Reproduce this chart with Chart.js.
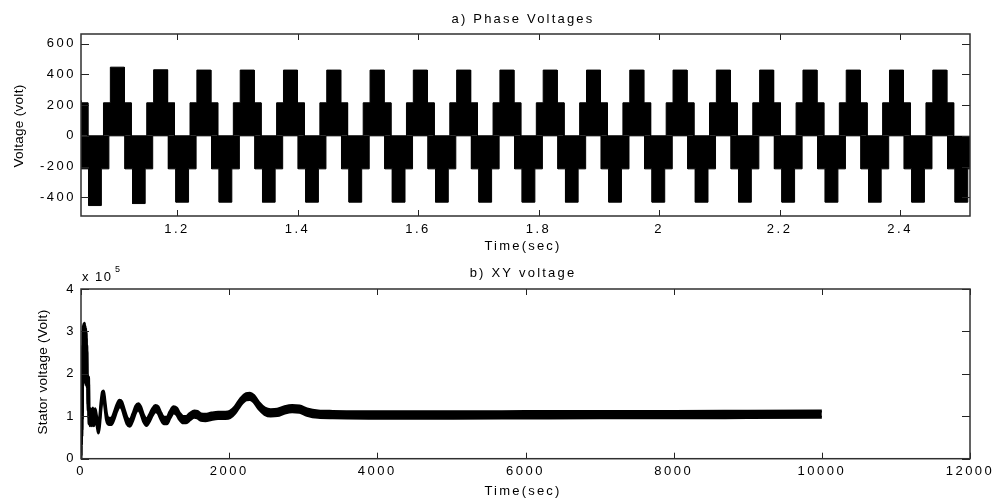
<!DOCTYPE html>
<html>
<head>
<meta charset="utf-8">
<script src="https://cdn.jsdelivr.net/npm/chart.js@4.4.1/dist/chart.umd.min.js"></script>
<style>
  body { margin: 0; background: #fff; }
  #wrap { position: relative; width: 996px; height: 498px; overflow: hidden; }
  .box { position: absolute; left: 0; width: 996px; }
  #boxA { top: 0; height: 260px; }
  #boxB { top: 250px; height: 248px; }
</style>
</head>
<body>
<div id="wrap">
  <div class="box" id="boxA"><canvas id="phaseChart"></canvas></div>
  <div class="box" id="boxB"><canvas id="xyChart"></canvas></div>
</div>
<script>
// a) phase voltages - centre of every positive and negative step (sec)
var posPeakTime = [1.0291, 1.1010, 1.1728, 1.2446, 1.3165, 1.3883, 1.4601, 1.5320, 1.6038, 1.6757, 1.7475,
                   1.8193, 1.8912, 1.9630, 2.0348, 2.1067, 2.1785, 2.2504, 2.3222, 2.3940, 2.4659];
var posPeakVolt = [230, 447, 430, 428, 428, 428, 428, 428, 428, 428, 428,
                   428, 428, 428, 428, 428, 428, 428, 428, 428, 428];
var negPeakTime = [1.0640, 1.1367, 1.2087, 1.2805, 1.3524, 1.4242, 1.4960, 1.5679, 1.6397, 1.7116, 1.7834,
                   1.8552, 1.9271, 1.9989, 2.0707, 2.1426, 2.2144, 2.2863, 2.3581, 2.4299, 2.5018];
var negPeakVolt = [-454, -441, -432, -432, -432, -432, -432, -432, -432, -432, -432,
                   -432, -432, -432, -432, -432, -432, -432, -432, -432, -432];
var stepVolt = 215;       // middle level of the six-step wave
var blockHalf = 0.023;    // half width of the 215 V block (sec)
var posPeakHalf = 0.0116; // half width of the top step
var negPeakHalf = 0.0105;
var phaseXTicks = [1.2, 1.4, 1.6, 1.8, 2, 2.2, 2.4];
var phaseYTicks = [-400, -200, 0, 200, 400, 600];

// b) XY voltage - centre of the thick trace, in 1e5 V
var xyTime = [0, 3, 6, 9, 12, 15, 18, 22, 26, 30, 34, 38, 42, 46, 50, 54, 58, 62, 66, 70, 74, 78, 84, 90, 96, 102, 108,
              115, 122, 132, 146, 160, 175, 190, 205, 222, 235, 250,
              270, 290, 305, 322, 345, 375, 410, 445, 485, 520, 550, 585, 620, 660, 700, 740, 775, 805, 845, 885, 925,
              965, 1005, 1040, 1080, 1120, 1160, 1200, 1250, 1290, 1330, 1380, 1420, 1470, 1530, 1570, 1620, 1680,
              1760, 1850, 1950, 2010, 2080, 2150, 2230, 2280, 2330, 2400, 2480, 2560, 2650, 2750, 2850, 2950, 3050,
              3200, 3400, 4000, 5000, 6000, 7000, 8000, 9000, 10000];
var xyVolt = [0, 2.4, 0.4, 2.4, 0.6, 2.3, 1.0, 2.6, 1.8, 3.05, 1.9, 3.1, 2.0, 3.12, 2.0, 3.05, 1.9, 3.0, 1.85, 2.9, 1.8, 2.6,
              1.75, 1.9, 1.2, 1.85, 0.9,
              1.05, 0.85, 1.1, 0.85, 1.12, 0.85, 1.1, 0.98, 0.8, 0.68, 0.85,
              1.25, 1.5, 1.52, 1.3, 0.98, 0.88, 0.88, 1.0, 1.2, 1.3, 1.27, 1.08, 0.9, 0.84, 0.98, 1.17, 1.22, 1.15, 0.95, 0.86, 0.96,
              1.1, 1.18, 1.15, 1.0, 0.9, 0.9, 1.03, 1.15, 1.12, 1.0, 0.92, 0.92, 0.99, 1.05, 1.04, 0.98, 0.97,
              1.0, 1.02, 1.02, 1.04, 1.15, 1.33, 1.46, 1.47, 1.42, 1.25, 1.12, 1.08, 1.09, 1.15, 1.18, 1.17, 1.1,
              1.05, 1.04, 1.03, 1.03, 1.035, 1.04, 1.04, 1.045, 1.05];
var xyRipple = 0.075; // half thickness of the black band (without the stroke)
var xyXTicks = [0, 2000, 4000, 6000, 8000, 10000, 12000];
var xyYTicks = [0, 1, 2, 3, 4];

var FONT = '"Liberation Sans", Arial, sans-serif';
var INK = '#000';

// six-step envelope: 0 -> level -> peak -> level -> 0 around every centre
function stepEnvelope(times, peaks, peakHalf) {
  var pts = [];
  for (var i = 0; i < times.length; i++) {
    var c = times[i], lv = peaks[i] > 0 ? stepVolt : -stepVolt;
    pts.push({x: c - blockHalf, y: 0});
    pts.push({x: c - blockHalf, y: lv});
    pts.push({x: c - peakHalf, y: lv});
    pts.push({x: c - peakHalf, y: peaks[i]});
    pts.push({x: c + peakHalf, y: peaks[i]});
    pts.push({x: c + peakHalf, y: lv});
    pts.push({x: c + blockHalf, y: lv});
    pts.push({x: c + blockHalf, y: 0});
  }
  return pts;
}

function band(sign) {
  return xyTime.map(function (t, i) { return {x: t, y: xyVolt[i] + sign * xyRipple}; });
}

// box, inward ticks and the texts, matlab style
var matlabFrame = {
  id: 'matlabFrame',
  beforeDraw: function (chart) { chart.ctx.letterSpacing = '2.5px'; },
  beforeDatasetsDraw: function (chart) { chart.ctx.letterSpacing = '0px'; },
  afterDatasetsDraw: function (chart) {
    var ctx = chart.ctx, a = chart.chartArea, xs = chart.scales.x, ys = chart.scales.y;
    ctx.save();
    ctx.strokeStyle = '#222';
    ctx.lineWidth = 1;
    ctx.beginPath();
    xs.ticks.forEach(function (t) {
      var p = Math.round(xs.getPixelForValue(t.value)) + 0.5;
      ctx.moveTo(p, a.bottom); ctx.lineTo(p, a.bottom - 6);
      ctx.moveTo(p, a.top); ctx.lineTo(p, a.top + 6);
    });
    ys.ticks.forEach(function (t) {
      var p = Math.round(ys.getPixelForValue(t.value)) + 0.5;
      ctx.moveTo(a.left, p); ctx.lineTo(a.left + 8, p);
      ctx.moveTo(a.right, p); ctx.lineTo(a.right - 8, p);
    });
    ctx.stroke();
    ctx.lineWidth = 1.5;
    ctx.strokeStyle = '#303030';
    ctx.strokeRect(a.left, a.top, a.right - a.left, a.bottom - a.top);
    ctx.restore();
  },
  afterDraw: function (chart, args, o) {
    var ctx = chart.ctx;
    ctx.save();
    ctx.fillStyle = INK;
    ctx.textBaseline = 'alphabetic';
    ctx.textAlign = 'center';
    ctx.letterSpacing = '2.2px';
    ctx.font = '13px ' + FONT;
    ctx.fillText(o.title, o.titleX, o.titleY);
    ctx.fillText(o.xlabel, o.titleX, o.xlabelY);
    if (o.exponent) {
      ctx.textAlign = 'left';
      ctx.letterSpacing = '1.5px';
      ctx.font = '13px ' + FONT;
      ctx.fillText('x 10', 82, o.exponentY);
      ctx.font = '9px ' + FONT;
      ctx.fillText(o.exponent, 115, o.exponentY - 9);
    }
    ctx.letterSpacing = '0.3px';
    ctx.font = '13.5px ' + FONT;
    ctx.textAlign = 'center';
    ctx.translate(o.ylabelX, o.ylabelY);
    ctx.rotate(-Math.PI / 2);
    ctx.fillText(o.ylabel, 0, 0);
    ctx.restore();
  }
};

function axesOptions(cfg) {
  return {
    responsive: true,
    maintainAspectRatio: false,
    animation: false,
    layout: {padding: {left: 0, right: 26, top: cfg.top, bottom: 0}},
    plugins: {
      legend: {display: false},
      tooltip: {enabled: false},
      matlabFrame: cfg.frame
    },
    scales: {
      x: {
        type: 'linear', min: cfg.xmin, max: cfg.xmax,
        grid: {display: false, drawTicks: false}, border: {display: false},
        afterBuildTicks: function (s) { s.ticks = cfg.xTicks.map(function (v) { return {value: v}; }); },
        afterFit: function (s) { s.height = cfg.xAxisH; },
        ticks: {color: INK, font: {family: FONT, size: 13}, padding: cfg.xPad, autoSkip: false, maxRotation: 0,
                callback: function (v) { return String(Math.round(v * 10) / 10); }}
      },
      y: {
        type: 'linear', min: cfg.ymin, max: cfg.ymax,
        grid: {display: false, drawTicks: false}, border: {display: false},
        afterBuildTicks: function (s) { s.ticks = cfg.yTicks.map(function (v) { return {value: v}; }); },
        afterFit: function (s) { s.width = 81; },
        ticks: {color: INK, font: {family: FONT, size: 13}, padding: 5, autoSkip: false,
                callback: function (v) { return String(v); }}
      }
    }
  };
}

new Chart(document.getElementById('phaseChart'), {
  type: 'line',
  data: {
    datasets: [{
      data: stepEnvelope(posPeakTime, posPeakVolt, posPeakHalf),
      borderColor: '#000', backgroundColor: '#000', borderWidth: 1, pointRadius: 0, fill: 'origin'
    }, {
      data: stepEnvelope(negPeakTime, negPeakVolt, negPeakHalf),
      borderColor: '#000', backgroundColor: '#000', borderWidth: 1, pointRadius: 0, fill: 'origin'
    }]
  },
  options: axesOptions({
    top: 34, xAxisH: 44, xPad: 6,
    xmin: 1.0407, xmax: 2.516, ymin: -522, ymax: 663,
    xTicks: phaseXTicks, yTicks: phaseYTicks,
    frame: {title: 'a) Phase Voltages', titleX: 523, titleY: 23, xlabel: 'Time(sec)', xlabelY: 250,
            ylabel: 'Voltage (volt)', ylabelX: 23, ylabelY: 126}
  }),
  plugins: [matlabFrame]
});

new Chart(document.getElementById('xyChart'), {
  type: 'line',
  data: {
    datasets: [{
      data: band(1),
      borderColor: '#000', borderWidth: 3, pointRadius: 0, cubicInterpolationMode: 'monotone', fill: false
    }, {
      data: band(-1),
      borderColor: '#000', backgroundColor: '#000', borderWidth: 3, pointRadius: 0,
      cubicInterpolationMode: 'monotone', fill: '-1'
    }]
  },
  options: axesOptions({
    top: 39, xAxisH: 39.3, xPad: 5,
    xmin: 0, xmax: 12000, ymin: 0, ymax: 4,
    xTicks: xyXTicks, yTicks: xyYTicks,
    frame: {title: 'b) XY voltage', titleX: 523, titleY: 27, xlabel: 'Time(sec)', xlabelY: 245,
            ylabel: 'Stator voltage (Volt)', ylabelX: 47, ylabelY: 122, exponent: '5', exponentY: 31}
  }),
  plugins: [matlabFrame]
});
</script>
</body>
</html>
